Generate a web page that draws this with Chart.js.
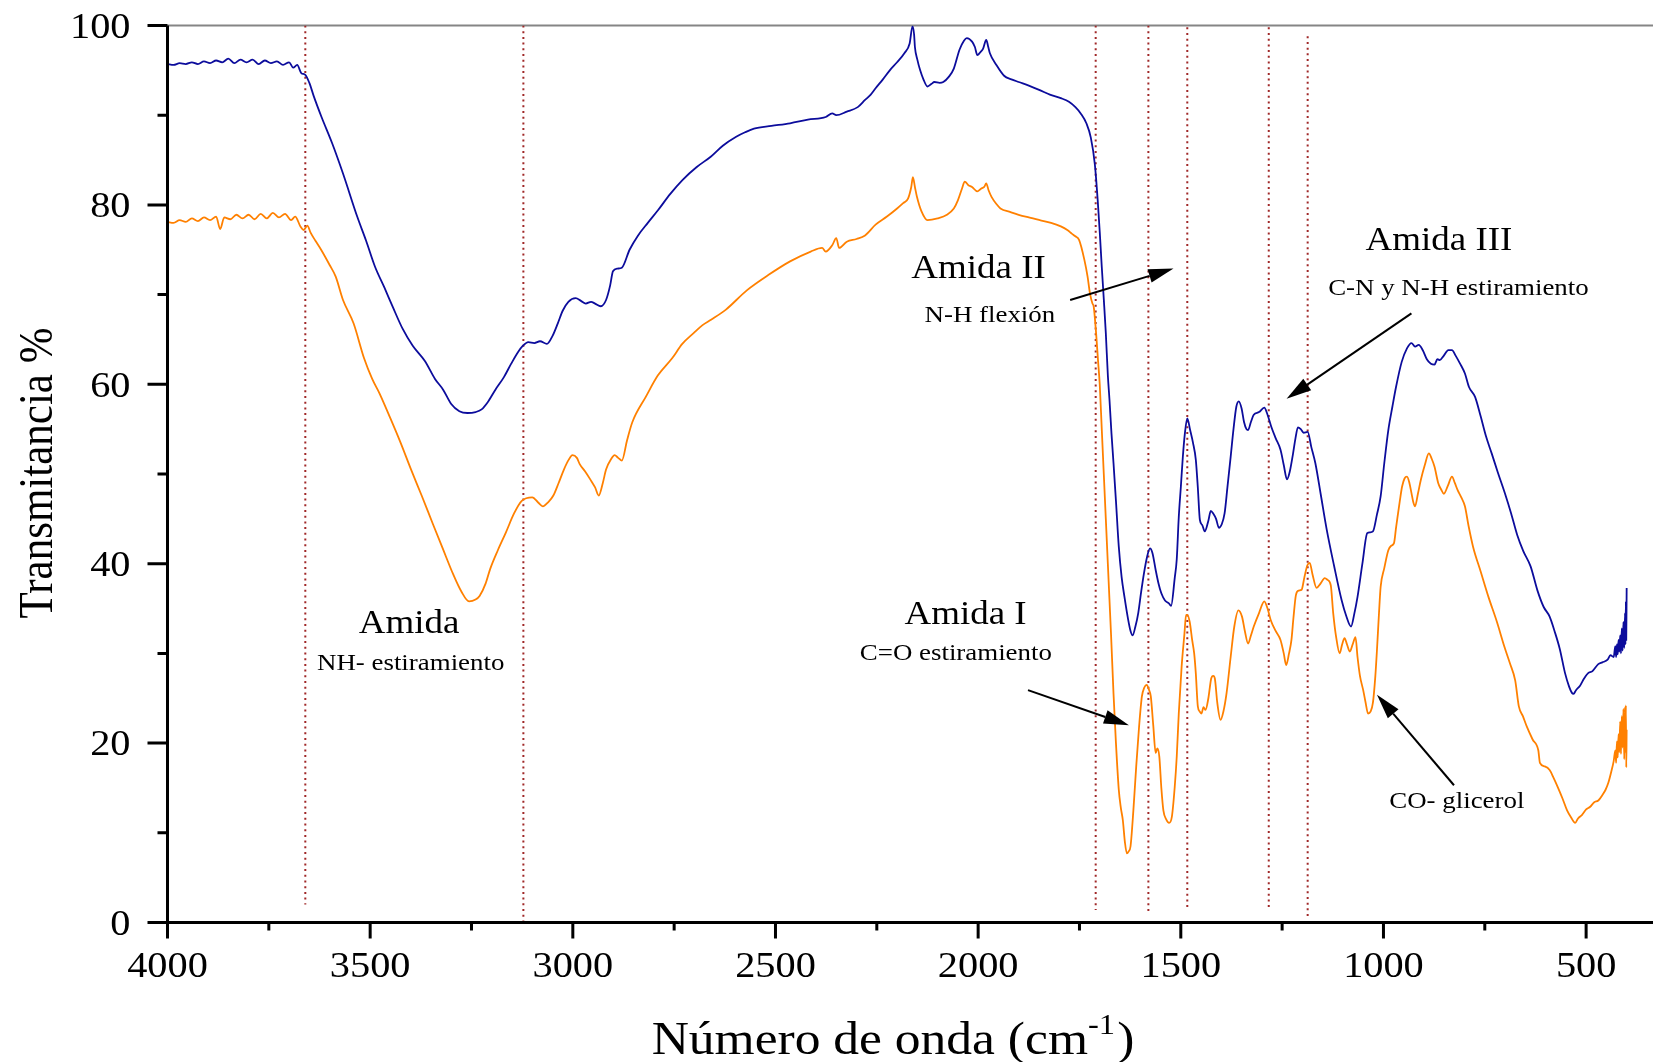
<!DOCTYPE html>
<html>
<head>
<meta charset="utf-8">
<title>Espectro FTIR</title>
<script src="https://cdn.jsdelivr.net/npm/chart.js@4.4.1/dist/chart.umd.min.js"></script>
<style>
  html, body { margin: 0; padding: 0; background: #ffffff; }
  #wrap { position: relative; width: 1653px; height: 1062px; }
</style>
</head>
<body>
<div id="wrap"><canvas id="ftir"></canvas></div>
<script>
// ---- spectra: wavenumber (cm-1) and transmittance (%) ----
const blueWavenumber = [
  4000,3985,3970,3955,3940,3925,3910,3895,3880,3865,3850,3835,3820,3805,3790,3775,3760,3745,3730,3715,
  3700,3690,3680,3670,3660,3650,3639,3620,3594,3567,3532,3510,3488,3465,3444,3420,3395,3365,3340,3320,
  3300,3280,3260,3240,3225,3210,3191,3170,3152,3135,3123,3110,3095,3081,3064,3050,3037,3025,3011,2993,
  2980,2968,2955,2945,2931,2918,2908,2901,2890,2879,2860,2839,2815,2790,2760,2729,2695,2659,2630,2597,
  2575,2553,2510,2464,2420,2376,2360,2350,2324,2297,2279,2265,2253,2235,2218,2200,2182,2169,2162,2158,
  2156,2150,2143,2135,2125,2115,2108,2095,2086,2072,2060,2046,2035,2028,2015,2008,2002,1995,1988,1980,
  1975,1971,1955,1936,1918,1900,1875,1848,1823,1796,1776,1760,1747,1733,1722,1712,1705,1700,1695,1690,
  1685,1680,1676,1671,1666,1660,1653,1646,1639,1630,1624,1619,1612,1605,1598,1591,1583,1576,1570,1562,
  1555,1548,1539,1530,1524,1515,1510,1505,1500,1495,1490,1484,1477,1470,1463,1458,1453,1447,1441,1432,
  1426,1420,1413,1406,1399,1392,1385,1377,1370,1363,1357,1350,1344,1338,1334,1327,1320,1307,1294,1286,
  1277,1266,1254,1246,1238,1231,1223,1217,1211,1204,1197,1187,1178,1168,1155,1140,1122,1103,1092,1080,
  1072,1064,1052,1040,1033,1026,1016,1007,998,988,978,969,955,942,931,922,913,903,893,883,
  874,867,861,851,840,831,822,811,799,789,774,760,747,733,718,700,685,670,655,637,
  620,605,590,578,565,552,542,535,531,525,515,505,495,485,470,460,447,440,432,428,
  426,424,422,420,418,416,414,412,410,408,406,404,403,402,401,400
];
const blueTransmittance = [
  95.7,95.6,95.8,95.7,95.9,95.7,96.0,95.8,96.1,95.9,96.3,95.8,96.2,95.9,96.2,95.7,96.1,95.8,96.0,95.6,
  95.9,95.3,95.6,94.7,94.5,93.6,92.1,89.8,86.9,83.5,78.7,76.0,73.1,70.8,68.6,66.2,64.3,62.6,60.6,59.4,
  57.8,57.0,56.8,56.9,57.2,58.0,59.4,60.8,62.3,63.6,64.3,64.7,64.6,64.8,64.5,65.4,66.8,68.2,69.2,69.6,
  69.3,69.0,69.2,69.0,68.7,69.4,71.0,72.6,72.9,73.0,75.0,76.6,78.0,79.4,81.2,82.8,84.2,85.4,86.6,87.6,
  88.1,88.5,88.8,89.1,89.5,89.8,90.2,90.0,90.4,90.9,91.7,92.3,93.0,94.0,95.0,95.9,96.9,98.0,99.9,99.0,
  97.6,96.2,95.0,94.0,93.2,93.5,93.7,93.6,93.7,94.3,95.2,97.3,98.3,98.6,98.2,97.6,96.7,97.0,97.4,98.4,
  97.6,96.9,95.6,94.4,94.0,93.7,93.3,92.8,92.3,91.9,91.5,90.9,90.2,89.1,87.5,84.5,80.5,77.0,73.1,69.5,
  65.7,61.0,58.3,54.5,51.2,47.0,41.9,38.5,36.3,33.8,32.5,32.0,33.0,34.5,36.8,38.9,40.8,41.7,41.2,39.3,
  37.8,36.7,35.9,35.6,35.3,38.4,40.5,45.2,48.5,51.9,54.5,56.2,54.9,53.5,51.6,48.5,44.9,44.3,43.6,44.8,
  45.9,45.6,45.0,44.0,44.4,45.6,48.5,51.9,55.0,57.5,58.1,57.3,55.8,55.0,54.9,55.8,56.6,56.9,57.4,56.6,
  55.3,54.0,52.7,51.0,49.4,50.3,52.3,54.0,55.2,55.0,54.6,54.7,53.0,51.2,47.8,43.8,39.8,35.9,34.2,33.0,
  34.4,36.3,40.0,43.4,43.5,43.6,45.5,47.5,51.2,54.9,57.5,59.7,62.5,64.0,64.6,64.2,64.4,63.8,62.8,62.3,
  62.2,62.8,62.7,63.2,63.8,63.8,63.2,62.3,61.2,59.7,58.6,56.4,54.2,52.3,50.2,47.8,45.6,43.2,41.4,39.7,
  37.0,35.2,34.1,32.5,30.5,27.8,26.3,25.6,25.5,25.9,26.4,27.2,27.8,28.0,28.8,29.0,29.3,29.8,29.6,30.8,
  29.6,31.0,29.9,31.5,30.2,32.0,30.0,32.8,30.3,33.5,30.6,34.5,31.0,35.8,31.5,37.3
];

const orangeWavenumber = [
  4000,3985,3970,3955,3940,3925,3910,3895,3880,3870,3860,3845,3830,3815,3800,3785,3770,3755,3740,3725,
  3710,3695,3685,3672,3664,3655,3647,3635,3621,3600,3585,3567,3541,3515,3495,3477,3450,3425,3400,3373,
  3345,3321,3295,3275,3256,3240,3230,3215,3204,3185,3165,3145,3126,3100,3085,3074,3060,3048,3035,3022,
  3010,3001,2990,2983,2970,2957,2945,2936,2926,2918,2905,2897,2888,2879,2866,2853,2820,2790,2755,2730,
  2702,2680,2659,2623,2570,2517,2464,2413,2385,2376,2360,2350,2343,2324,2300,2279,2253,2225,2200,2185,
  2173,2165,2161,2156,2151,2140,2125,2100,2077,2060,2050,2040,2033,2024,2015,2002,1993,1985,1980,1974,
  1967,1955,1945,1920,1900,1875,1848,1820,1796,1780,1769,1760,1751,1738,1730,1724,1718,1715,1709,1704,
  1700,1695,1690,1685,1680,1676,1672,1666,1660,1653,1648,1643,1638,1633,1629,1624,1617,1610,1603,1596,
  1590,1584,1579,1574,1568,1562,1558,1553,1548,1543,1536,1529,1522,1515,1510,1505,1498,1491,1487,1484,
  1478,1472,1467,1463,1458,1453,1449,1444,1439,1432,1425,1420,1416,1410,1402,1395,1387,1377,1368,1358,
  1349,1342,1334,1327,1320,1307,1294,1286,1278,1266,1254,1246,1240,1233,1227,1222,1216,1209,1202,1195,
  1188,1182,1175,1165,1155,1145,1138,1130,1124,1117,1108,1102,1096,1090,1083,1076,1069,1064,1058,1050,
  1044,1038,1032,1026,1020,1016,1011,1007,998,988,981,974,969,964,959,954,948,942,936,931,
  926,922,915,908,898,888,881,874,865,858,851,841,831,824,817,808,799,790,779,760,
  741,720,702,688,675,666,656,646,632,618,614,602,590,580,570,558,547,537,527,520,
  510,500,490,480,470,460,452,445,438,432,428,426,424,422,420,418,416,414,412,410,
  408,406,404,403,402,401,400
];
const orangeTransmittance = [
  78.1,78.0,78.3,78.1,78.5,78.2,78.6,78.3,78.7,77.3,78.6,78.4,78.9,78.5,78.9,78.4,79.0,78.5,79.1,78.6,
  79.0,78.3,78.7,77.6,77.2,77.7,76.9,76.0,75.0,73.3,72.0,69.4,66.8,62.9,60.6,59.0,56.2,53.5,50.6,47.6,
  44.4,41.7,38.8,36.9,35.8,36.0,36.4,37.8,39.4,41.5,43.5,45.6,47.0,47.4,46.8,46.4,46.9,47.6,49.0,50.5,
  51.6,52.1,51.8,51.1,50.3,49.4,48.5,47.6,49.0,50.5,51.7,52.1,51.8,51.5,53.8,55.8,58.6,61.0,62.9,64.5,
  65.7,66.6,67.2,68.3,70.5,72.2,73.7,74.8,75.2,74.8,75.5,76.3,75.2,75.9,76.2,76.6,77.8,78.7,79.6,80.2,
  80.7,82.0,83.1,82.0,80.9,79.3,78.3,78.5,78.9,79.6,80.5,81.8,82.6,82.2,82.0,81.5,81.8,82.0,82.4,81.6,
  80.9,80.1,79.6,79.2,78.9,78.6,78.3,78.0,77.6,77.2,76.8,76.5,76.1,73.9,72.0,70.1,69.0,68.7,65.7,62.5,
  60.0,55.0,50.0,45.0,40.0,36.0,32.0,25.5,20.0,14.8,12.8,11.4,9.0,7.7,7.9,8.5,12.5,17.4,21.8,25.2,
  26.2,26.5,26.0,25.2,22.0,18.9,19.4,18.5,15.0,12.5,11.5,11.1,11.8,15.1,18.5,23.3,28.5,32.2,34.3,34.3,
  33.5,31.5,30.0,27.8,24.1,23.5,23.3,24.0,23.7,25.0,27.2,27.5,27.2,24.5,22.6,23.5,25.6,29.6,33.0,34.8,
  34.1,32.5,31.1,32.0,33.0,34.5,35.8,35.0,33.7,32.5,31.5,30.0,28.7,30.0,31.5,34.0,36.5,37.0,37.1,38.5,
  39.8,40.1,38.8,37.3,37.8,38.4,38.2,37.6,34.5,31.9,30.0,31.0,31.7,31.0,30.2,31.0,31.8,29.6,27.5,25.9,
  24.5,23.3,23.5,24.5,27.5,30.4,34.5,37.4,39.5,41.5,42.0,42.3,44.0,45.6,47.2,48.6,49.5,49.7,49.0,47.9,
  46.8,46.4,47.8,49.3,51.0,52.3,51.7,50.8,49.0,48.3,47.8,48.7,49.7,49.0,48.2,47.4,46.4,44.2,41.9,39.1,
  36.3,33.5,30.8,28.9,27.0,24.1,23.0,21.8,20.4,19.2,17.8,17.4,17.0,16.1,15.1,13.8,12.5,11.7,11.1,11.6,
  12.0,12.6,12.9,13.4,13.6,14.2,14.8,15.6,16.8,18.0,19.2,17.8,20.2,18.4,21.0,19.0,22.4,18.8,23.0,19.5,
  23.8,18.2,24.0,19.0,24.2,17.3,21.5
];

// ---- band markers (dotted verticals) ----
const bandWavenumber = [3660, 3122, 1710, 1580, 1484, 1283, 1187];
const bandTop        = [100, 100, 100, 100, 99.8, 99.8, 98.8];
const bandBottom     = [2.0, 0, 1.4, 1.0, 1.6, 1.6, 0.7];

// ---- axes ----
const X_LEFT = 4000, X_RIGHT = 335;
const xMajorTicks = [4000, 3500, 3000, 2500, 2000, 1500, 1000, 500];
const xMinorTicks = [3750, 3250, 2750, 2250, 1750, 1250, 750];
const yMajorTicks = [0, 20, 40, 60, 80, 100];
const yMinorTicks = [10, 30, 50, 70, 90];

// ---- band labels: [text, wavenumber, transmittance at baseline, size] ----
const bandLabels = [
  ['Amida', 3404, 32.3, 'big'],
  ['NH- estiramiento', 3400, 28.15, 'small'],
  ['Amida II', 1999, 71.8, 'big'],
  ['N-H flexión', 1971, 67.0, 'small'],
  ['Amida III', 863, 75.0, 'big'],
  ['C-N y N-H estiramiento', 815, 69.95, 'small'],
  ['Amida I', 2031, 33.3, 'big'],
  ['C=O estiramiento', 2055, 29.3, 'small'],
  ['CO- glicerol', 819, 12.76, 'small']
];
// ---- arrows: [from wavenumber, from %, to wavenumber, to %] ----
const bandArrows = [
  [1773, 69.4, 1518, 72.9],
  [931, 67.9, 1239, 58.4],
  [1877, 25.9, 1628, 22.0],
  [826, 15.3, 1016, 25.4]
];

const SERIF = "'Liberation Serif', 'Times New Roman', serif";
const STRETCH = 1.12;   // text is set slightly wide
const TEXT_SIZE = { big: 33, small: 24 };

function toPoints(xs, ys) { return xs.map((w, i) => ({ x: w, y: ys[i] })); }

function wideText(ctx, text, x, y, size, align) {
  ctx.save();
  ctx.font = size + 'px ' + SERIF;
  ctx.textBaseline = 'alphabetic';
  ctx.textAlign = 'left';
  const w = ctx.measureText(text).width * STRETCH;
  const left = align === 'center' ? x - w / 2 : (align === 'right' ? x - w : x);
  ctx.translate(left, y);
  ctx.scale(STRETCH, 1);
  ctx.fillStyle = '#000';
  ctx.fillText(text, 0, 0);
  ctx.restore();
}

function arrow(ctx, x0, y0, x1, y1) {
  const ang = Math.atan2(y1 - y0, x1 - x0);
  const len = 25, half = 7;
  const bx = x1 - len * Math.cos(ang), by = y1 - len * Math.sin(ang);
  ctx.save();
  ctx.strokeStyle = '#000';
  ctx.fillStyle = '#000';
  ctx.lineWidth = 2;
  ctx.beginPath();
  ctx.moveTo(x0, y0);
  ctx.lineTo(bx, by);
  ctx.stroke();
  ctx.beginPath();
  ctx.moveTo(x1, y1);
  ctx.lineTo(bx + half * Math.sin(ang), by - half * Math.cos(ang));
  ctx.lineTo(bx - half * Math.sin(ang), by + half * Math.cos(ang));
  ctx.closePath();
  ctx.fill();
  ctx.restore();
}

const framePlugin = {
  id: 'frame',
  beforeDatasetsDraw(chart) {
    const { ctx, chartArea: a, scales: { y } } = chart;
    const yTop = y.getPixelForValue(100);
    ctx.save();
    ctx.strokeStyle = '#858585';
    ctx.lineWidth = 2;
    ctx.beginPath();
    ctx.moveTo(a.left, yTop);
    ctx.lineTo(a.right, yTop);
    ctx.stroke();
    ctx.restore();
  },
  afterDraw(chart) {
    const { ctx, chartArea: a, scales: { x, y } } = chart;
    ctx.save();
    ctx.strokeStyle = '#000';
    ctx.lineWidth = 3;
    ctx.beginPath();
    ctx.moveTo(a.left, a.top);
    ctx.lineTo(a.left, a.bottom);
    ctx.moveTo(a.left, a.bottom);
    ctx.lineTo(a.right, a.bottom);
    yMajorTicks.forEach(v => { const p = y.getPixelForValue(v); ctx.moveTo(a.left - 20, p); ctx.lineTo(a.left, p); });
    yMinorTicks.forEach(v => { const p = y.getPixelForValue(v); ctx.moveTo(a.left - 10, p); ctx.lineTo(a.left, p); });
    xMajorTicks.forEach(w => { const p = x.getPixelForValue(w); ctx.moveTo(p, a.bottom); ctx.lineTo(p, a.bottom + 16); });
    xMinorTicks.forEach(w => { const p = x.getPixelForValue(w); ctx.moveTo(p, a.bottom); ctx.lineTo(p, a.bottom + 8); });
    ctx.stroke();
    ctx.restore();

    yMajorTicks.forEach(v => wideText(ctx, String(v), a.left - 37, y.getPixelForValue(v) + 12.2, 36, 'right'));
    xMajorTicks.forEach(w => wideText(ctx, String(w), x.getPixelForValue(w), a.bottom + 54.5, 36, 'center'));

    // y title
    ctx.save();
    ctx.translate(52, (a.top + a.bottom) / 2 - 1);
    ctx.rotate(-Math.PI / 2);
    ctx.scale(1, STRETCH);
    ctx.font = '43px ' + SERIF;
    ctx.textAlign = 'center';
    ctx.textBaseline = 'alphabetic';
    ctx.fillStyle = '#000';
    ctx.fillText('Transmitancia %', 0, 0);
    ctx.restore();

    // x title with superscript
    ctx.save();
    const size = 46, sup = 29;
    ctx.font = size + 'px ' + SERIF;
    const mainTxt = 'Número de onda (cm', close = ')', supTxt = '-1';
    const w1 = ctx.measureText(mainTxt).width, w3 = ctx.measureText(close).width;
    ctx.font = sup + 'px ' + SERIF;
    const w2 = ctx.measureText(supTxt).width + 2;
    const total = (w1 + w2 + w3) * STRETCH;
    const cx = x.getPixelForValue(2210);
    const base = a.bottom + 131.5;
    let left = cx - total / 2;
    ctx.restore();
    wideText(ctx, mainTxt, left, base, size, 'left');
    left += w1 * STRETCH;
    wideText(ctx, supTxt, left, base - 20, sup, 'left');
    left += w2 * STRETCH;
    wideText(ctx, close, left, base, size, 'left');

    bandLabels.forEach(([t, w, v, s]) => wideText(ctx, t, x.getPixelForValue(w), y.getPixelForValue(v), TEXT_SIZE[s], 'center'));
    bandArrows.forEach(([w0, v0, w1a, v1]) => arrow(ctx, x.getPixelForValue(w0), y.getPixelForValue(v0), x.getPixelForValue(w1a), y.getPixelForValue(v1)));
  }
};

const bandDatasets = bandWavenumber.map((w, i) => ({
  data: [{ x: w, y: bandTop[i] }, { x: w, y: bandBottom[i] }],
  borderColor: '#a02828',
  borderWidth: 2,
  borderDash: [2, 3.7],
  pointRadius: 0,
  tension: 0
}));

new Chart(document.getElementById('ftir'), {
  type: 'line',
  data: {
    datasets: [
      {
        label: 'blue',
        data: toPoints(blueWavenumber, blueTransmittance),
        borderColor: '#0c0c9c',
        borderWidth: 1.8,
        pointRadius: 0,
        cubicInterpolationMode: 'monotone'
      },
      {
        label: 'orange',
        data: toPoints(orangeWavenumber, orangeTransmittance),
        borderColor: '#ff8000',
        borderWidth: 1.8,
        pointRadius: 0,
        cubicInterpolationMode: 'monotone'
      },
      ...bandDatasets
    ]
  },
  options: {
    responsive: true,
    maintainAspectRatio: false,
    animation: false,
    events: [],
    layout: { padding: { top: 25.5, left: 0, right: 0, bottom: 0 } },
    plugins: { legend: { display: false }, tooltip: { enabled: false } },
    scales: {
      x: {
        type: 'linear',
        reverse: true,
        min: X_RIGHT,
        max: X_LEFT,
        grid: { display: false },
        border: { display: false },
        ticks: { display: false },
        afterFit: s => { s.height = 139.5; }
      },
      y: {
        type: 'linear',
        min: 0,
        max: 100,
        grid: { display: false },
        border: { display: false },
        ticks: { display: false },
        afterFit: s => { s.width = 167.5; }
      }
    }
  },
  plugins: [framePlugin]
});
</script>
</body>
</html>
